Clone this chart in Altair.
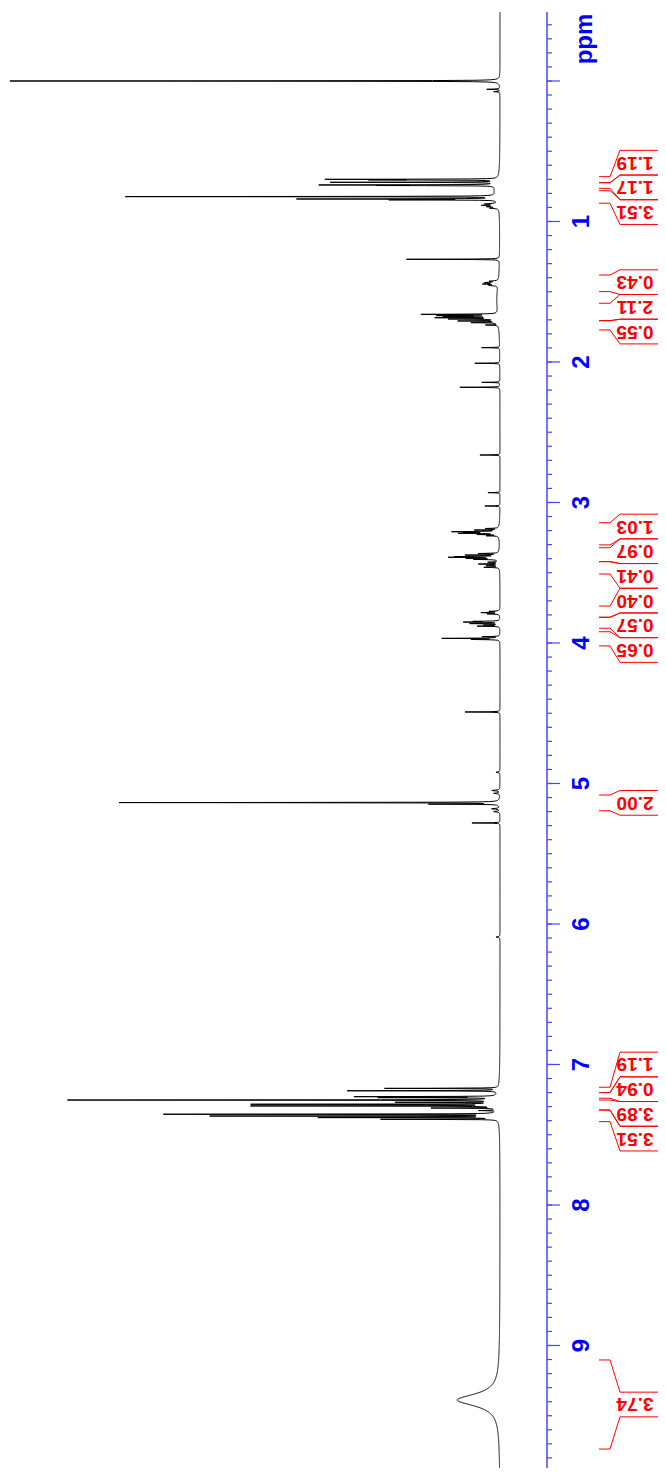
import altair as alt
import numpy as np
import pandas as pd

# ---------------- data ----------------
# peak positions (ppm), heights (intensity units), half widths (ppm)
peak_ppm = [0.000, 0.059, 0.076,
            0.700, 0.704, 0.721, 0.740, 0.744, 0.780, 0.823, 0.840, 0.846, 0.875, 0.885, 0.895, 0.905,
            1.269, 1.425, 1.435, 1.445, 1.455, 1.550,
            1.661, 1.670, 1.676, 1.685, 1.694, 1.708, 1.720, 1.737, 1.700,
            1.898, 2.009, 2.145, 2.180, 2.662, 2.930, 3.025,
            3.185, 3.196, 3.208, 3.213, 3.219, 3.228, 3.237, 3.210,
            3.363, 3.374, 3.385, 3.390, 3.398, 3.405, 3.390,
            3.425, 3.438, 3.450, 3.461,
            3.775, 3.784, 3.793,
            3.846, 3.851, 3.862, 3.872, 3.880,
            3.955, 3.967, 3.975,
            4.491, 4.920, 5.050, 5.070, 5.136, 5.147, 5.180, 5.200, 5.281, 6.093,
            7.170, 7.187, 7.229, 7.236, 7.253, 7.269, 7.283, 7.295, 7.310, 7.328,
            7.354, 7.367, 7.378, 7.390, 7.280,
            9.388]
peak_height = [490, 13, 6,
               163, 115, 165, 168, 105, 5, 370, 195, 100, 12, 15, 10, 8,
               93, 8, 12, 14, 8, 3,
               74, 55, 48, 58, 45, 37, 25, 12, 3,
               18, 25, 18, 40, 20, 12, 15,
               12, 22, 42, 28, 36, 19, 11, 3,
               19, 31, 38, 44, 28, 22, 3,
               10, 20, 12, 15,
               10, 18, 12,
               24, 34, 29, 15, 22,
               17, 57, 27,
               35, 4, 8, 6, 380, 67, 8, 6, 28, 4,
               113, 150, 138, 112, 426, 95, 240, 241, 62, 16,
               331, 283, 175, 115, 5,
               42.7]
peak_width = [0.0012, 0.0015, 0.0015,
              0.0012, 0.0012, 0.0012, 0.0012, 0.0012, 0.06, 0.0012, 0.0012, 0.0012, 0.003, 0.003, 0.003, 0.003,
              0.0012, 0.003, 0.003, 0.003, 0.003, 0.12,
              0.0015, 0.0015, 0.0015, 0.0015, 0.0015, 0.0015, 0.0015, 0.0015, 0.03,
              0.0012, 0.0012, 0.0012, 0.0012, 0.0012, 0.0012, 0.0012,
              0.0015, 0.0015, 0.0015, 0.0015, 0.0015, 0.0015, 0.0015, 0.03,
              0.0015, 0.0015, 0.0015, 0.0015, 0.0015, 0.0015, 0.03,
              0.002, 0.002, 0.002, 0.002,
              0.002, 0.002, 0.002,
              0.0015, 0.0015, 0.0015, 0.0015, 0.0015,
              0.0015, 0.0015, 0.0015,
              0.0012, 0.003, 0.003, 0.003, 0.0012, 0.0012, 0.003, 0.003, 0.0012, 0.003,
              0.0012, 0.0012, 0.0012, 0.0012, 0.0012, 0.0012, 0.0012, 0.0012, 0.0012, 0.0012,
              0.0012, 0.0012, 0.0012, 0.0012, 0.07,
              0.052]

# integral regions (ppm) and their values
int_start = [0.681, 0.724, 0.781, 1.381, 1.582, 1.706,
             3.144, 3.322, 3.421, 3.737, 3.817, 3.920,
             5.082, 7.162, 7.200, 7.253, 7.324, 9.103]
int_end = [0.724, 0.764, 0.870, 1.499, 1.706, 1.772,
           3.302, 3.421, 3.509, 3.817, 3.895, 4.021,
           5.194, 7.200, 7.240, 7.324, 7.407, 9.737]
int_value = ["1.19", "1.17", "3.51", "0.43", "2.11", "0.55",
             "1.03", "0.97", "0.41", "0.40", "0.57", "0.65",
             "2.00", "1.19", "0.94", "3.89", "3.51", "3.74"]

axis_labels = ["1", "2", "3", "4", "5", "6", "7", "8", "9"]

# ---------------- layout ----------------
PX_PER_PPM = 140.5
W, H = 539, 1456
PPM0 = -0.491
PPM1 = PPM0 + H / PX_PER_PPM
I_MIN, I_MAX = -47, 492

# spectrum trace from the peak list
grid = np.arange(PPM0, PPM1, 0.002)
grid = np.unique(np.concatenate([grid, np.array(peak_ppm)]))
inten = np.zeros_like(grid)
for c, h, w in zip(peak_ppm, peak_height, peak_width):
    inten += h / (1.0 + ((grid - c) / w) ** 2)
spec = pd.DataFrame({"ppm": np.round(grid, 5), "inten": np.round(inten, 3)})

yscale = alt.Scale(domain=[PPM0, PPM1], reverse=True, nice=False, zero=False)
xscale = alt.Scale(domain=[I_MIN, I_MAX], reverse=True, nice=False, zero=False)

spectrum = alt.Chart(spec).mark_line(color="black", strokeWidth=1).encode(
    x=alt.X("inten:Q", scale=xscale, axis=None),
    y=alt.Y("ppm:Q", scale=yscale, axis=None),
    order="ppm:Q",
)

# ppm axis (drawn on the right side)
AX = W
minor = pd.DataFrame({"ppm": np.round(np.arange(-0.4, PPM1, 0.1), 2)})
major = pd.DataFrame({"ppm": np.arange(0, 10, 1.0)})
labels = pd.DataFrame({"ppm": [float(s) for s in axis_labels], "lab": axis_labels})
axis_blue = "#4646ff"

axis_line = alt.Chart(pd.DataFrame({"a": [0]})).mark_rule(color=axis_blue, strokeWidth=1.5).encode(
    x=alt.value(AX), y=alt.value(0), y2=alt.value(H + 4))
minor_ticks = alt.Chart(minor).mark_rule(color=axis_blue, strokeWidth=1.2).encode(
    y=alt.Y("ppm:Q", scale=yscale, axis=None), x=alt.value(AX), x2=alt.value(AX + 5))
major_ticks = alt.Chart(major).mark_rule(color=axis_blue, strokeWidth=1.2).encode(
    y=alt.Y("ppm:Q", scale=yscale, axis=None), x=alt.value(AX), x2=alt.value(AX + 13))
tick_text = alt.Chart(labels).mark_text(
    color="#0000ff", font="Liberation Sans", fontWeight="bold", fontSize=24,
    angle=270, align="center", baseline="middle").encode(
    y=alt.Y("ppm:Q", scale=yscale, axis=None), x=alt.value(AX + 35), text="lab:N")
ppm_text = alt.Chart(pd.DataFrame({"ppm": [-0.299], "lab": ["ppm"]})).mark_text(
    color="#0000ff", font="Liberation Sans", fontWeight="bold", fontSize=24,
    angle=270, align="center", baseline="middle").encode(
    y=alt.Y("ppm:Q", scale=yscale, axis=None), x=alt.value(AX + 38), text="lab:N")

# integral label layout: stack overlapping labels centred on their regions
box_h = 24.7 / PX_PER_PPM
centers = [(s + e) / 2 for s, e in zip(int_start, int_end)]
order_idx = sorted(range(len(centers)), key=lambda i: centers[i])
groups = [[i] for i in order_idx]
changed = True
while changed:
    changed = False
    for k in range(len(groups) - 1):
        g1, g2 = groups[k], groups[k + 1]
        c1 = np.mean([centers[i] for i in g1]); c2 = np.mean([centers[i] for i in g2])
        if c1 + len(g1) * box_h / 2 > c2 - len(g2) * box_h / 2:
            groups[k] = g1 + g2
            del groups[k + 1]
            changed = True
            break
edge_rows, label_rows = [], []
for g in groups:
    c = np.mean([centers[i] for i in g])
    top = c - len(g) * box_h / 2
    for j, i in enumerate(g):
        bt = top + j * box_h
        bb = bt + box_h
        edge_rows.append({"edge": int_start[i], "box": bt})
        edge_rows.append({"edge": int_end[i], "box": bb})
        label_rows.append({"ppm": (bt + bb) / 2, "lab": int_value[i]})
edges = pd.DataFrame(edge_rows)
labs = pd.DataFrame(label_rows)
red = "#ff0000"

e1 = alt.Chart(edges).mark_rule(color=red, strokeWidth=1).encode(
    y=alt.Y("edge:Q", scale=yscale, axis=None), x=alt.value(AX + 52), x2=alt.value(AX + 63))
e2 = alt.Chart(edges).mark_rule(color=red, strokeWidth=1).encode(
    y=alt.Y("edge:Q", scale=yscale, axis=None), y2="box:Q", x=alt.value(AX + 63), x2=alt.value(AX + 73))
e3 = alt.Chart(edges).mark_rule(color=red, strokeWidth=1).encode(
    y=alt.Y("box:Q", scale=yscale, axis=None), x=alt.value(AX + 73), x2=alt.value(AX + 111))
int_text = alt.Chart(labs).mark_text(
    color=red, font="Liberation Sans", fontWeight="bold", fontSize=19,
    angle=180, align="center", baseline="middle").encode(
    y=alt.Y("ppm:Q", scale=yscale, axis=None), x=alt.value(AX + 88), text="lab:N")

chart = alt.layer(
    spectrum, axis_line, minor_ticks, major_ticks, tick_text, ppm_text, e1, e2, e3, int_text
).properties(
    width=W, height=H,
    autosize=alt.AutoSizeParams(type="none"),
    padding={"left": 0, "top": 4, "right": 111, "bottom": 0},
).configure_view(stroke=None)

chart.save("out.html", embed_options={"renderer": "svg", "actions": False})
